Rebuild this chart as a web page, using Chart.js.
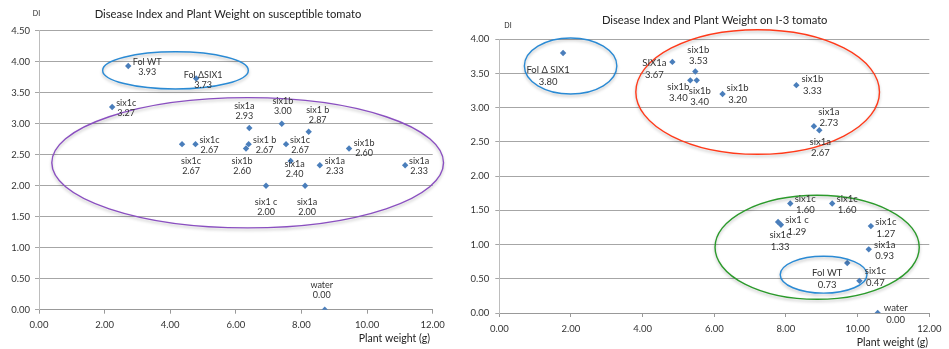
<!DOCTYPE html>
<html>
<head>
<meta charset="utf-8">
<script src="https://cdn.jsdelivr.net/npm/chart.js@4"></script>
<style>
  body { margin: 0; background: #fff; }
  canvas { position: absolute; top: 0; }
  #sus { left: 0; }
  #i3 { left: 470px; }
</style>
</head>
<body>
<canvas id="sus" width="470" height="349"></canvas>
<canvas id="i3" width="479" height="349"></canvas>
<script>
// susceptible tomato: plant weight (g) vs disease index
const susNames = ['Fol WT', 'Fol \u0394SIX1', 'six1c', 'six1a', 'six1b', 'six1 b', 'six1c', 'six1c',
  'six1 b', 'six1b', 'six1c', 'six1a', 'six1a', 'six1b', 'six1a', 'six1 c', 'six1a', 'water'];
const susWeight = [2.72, 4.79, 2.23, 6.41, 7.40, 8.22, 4.36, 4.77, 6.39, 6.31, 7.53, 7.67, 8.56, 9.45, 11.16, 6.92, 8.11, 8.71];
const susDI = [3.93, 3.73, 3.27, 2.93, 3.00, 2.87, 2.67, 2.67, 2.67, 2.60, 2.67, 2.40, 2.33, 2.60, 2.33, 2.00, 2.00, 0.00];

// I-3 tomato
const i3Names = ['Fol \u0394 SIX1', 'SIX1a', 'six1b', 'six1b', 'six1b', 'six1b', 'six1b', 'six1a', 'six1a',
  'six1c', 'six1c', 'six1c', 'six1 c', 'six1c', 'six1a', 'Fol WT', 'six1c', 'water'];
const i3Weight = [1.78, 4.83, 5.47, 5.33, 5.51, 6.23, 8.29, 8.78, 8.93, 8.12, 9.29, 7.78, 7.86, 10.37, 10.31, 9.71, 10.05, 10.56];
const i3DI = [3.80, 3.67, 3.53, 3.40, 3.40, 3.20, 3.33, 2.73, 2.67, 1.60, 1.60, 1.33, 1.29, 1.27, 0.93, 0.73, 0.47, 0.00];

// where each two-line label sits relative to its point (px)
const susLabelShift = [[19, 1], [7, 2], [14, 1], [-5, -17], [1, -18], [9, -17], [9, 22], [14, 1], [16, 1],
  [-4, 18], [14, 1], [4, 8], [15, 1], [15, 0], [14, 1], [0, 21], [2, 21], [-3, -20]];
const i3LabelShift = [[-15, 23], [-18, 7], [3, -16], [-12, 12], [3, 16], [15, 0], [16, 0], [15, -9], [1, 17],
  [15, 1], [15, 1], [2, 19], [16, 1], [15, 2], [16, 1], [-20, 16], [16, -4], [18, 1]];

// hand-drawn groupings, in data units
const susRings = [
  { cx: 4.16, cy: 3.86, rx: 2.22, ry: 0.30, color: '#2a8ad4' },
  { cx: 6.36, cy: 2.37, rx: 5.97, ry: 1.05, color: '#8a4fc0' },
];
const i3Rings = [
  { cx: 1.99, cy: 3.61, rx: 1.29, ry: 0.41, color: '#2a8ad4' },
  { cx: 7.21, cy: 3.23, rx: 3.40, ry: 0.91, color: '#ff3a1a' },
  { cx: 8.87, cy: 0.96, rx: 2.85, ry: 0.76, color: '#2b9a2b' },
  { cx: 9.05, cy: 0.56, rx: 1.21, ry: 0.27, color: '#2a8ad4' },
];

const FONT = 'Lato, "Open Sans", sans-serif';

const overlay = {
  id: 'overlay',
  afterDatasetsDraw(chart, args, opts) {
    const ctx = chart.ctx;
    const xs = chart.scales.x, ys = chart.scales.y;
    // rings
    opts.rings.forEach((r) => {
      const cx = xs.getPixelForValue(r.cx), cy = ys.getPixelForValue(r.cy);
      const rx = Math.abs(xs.getPixelForValue(r.cx + r.rx) - cx);
      const ry = Math.abs(ys.getPixelForValue(r.cy + r.ry) - cy);
      ctx.save();
      ctx.shadowColor = 'rgba(0,0,0,0.25)';
      ctx.shadowBlur = 3;
      ctx.shadowOffsetY = 2;
      ctx.strokeStyle = r.color;
      ctx.lineWidth = 1.4;
      ctx.beginPath();
      ctx.ellipse(cx, cy, rx, ry, 0, 0, Math.PI * 2);
      ctx.stroke();
      ctx.restore();
    });
    // point labels
    const meta = chart.getDatasetMeta(0);
    ctx.save();
    ctx.font = opts.labelSize + 'px ' + FONT;
    ctx.fillStyle = '#333';
    ctx.textAlign = 'center';
    ctx.textBaseline = 'middle';
    meta.data.forEach((pt, i) => {
      const [dx, dy] = opts.shift[i];
      const x = pt.x + dx, y = pt.y + dy;
      const h = opts.lineGap / 2;
      ctx.fillText(opts.names[i], x, y - h);
      ctx.fillText(opts.values[i].toFixed(2), x, y + h);
    });
    ctx.restore();
    // titles
    ctx.save();
    ctx.fillStyle = '#222';
    ctx.textBaseline = 'middle';
    opts.texts.forEach((t) => {
      ctx.font = t.size + 'px ' + FONT;
      ctx.textAlign = t.align || 'center';
      ctx.fillText(t.text, t.x, t.y);
    });
    ctx.restore();
  },
};

function makeChart(id, weights, di, names, shift, rings, yMax, box, texts, labelSize, lineGap) {
  const tickFont = { family: FONT, size: 9.5 };
  return new Chart(document.getElementById(id), {
    type: 'scatter',
    data: {
      datasets: [{
        data: weights.map((w, i) => ({ x: w, y: di[i] })),
        pointStyle: 'rectRot',
        radius: 3.2,
        backgroundColor: '#4a7ebb',
        borderWidth: 0,
      }],
    },
    options: {
      responsive: false,
      animation: false,
      layout: { padding: { top: box.top, right: box.right, left: 0, bottom: 0 } },
      plugins: {
        legend: { display: false },
        tooltip: { enabled: false },
        overlay: { rings, names, values: di, shift, texts, labelSize, lineGap },
      },
      scales: {
        x: {
          type: 'linear', min: 0, max: 12,
          ticks: { stepSize: 2, autoSkip: false, padding: 6, color: '#333', font: tickFont,
            callback: (v) => v.toFixed(2) },
          grid: { drawOnChartArea: false, tickLength: 4, color: '#999' },
          border: { color: '#999' },
          afterFit: (s) => { s.height = box.xh; },
        },
        y: {
          min: 0, max: yMax,
          ticks: { stepSize: 0.5, padding: box.ypad, color: '#333', font: tickFont,
            callback: (v) => v.toFixed(2) },
          grid: { tickLength: 4, color: '#a6a6a6' },
          border: { color: '#bdbdbd' },
          afterFit: (s) => { s.width = box.yw; },
        },
      },
    },
    plugins: [overlay],
  });
}

makeChart('sus', susWeight, susDI, susNames, susLabelShift, susRings, 4.5,
  { top: 30.7, right: 37.3, xh: 39.3, yw: 39, ypad: 5 },
  [
    { text: 'Disease Index and Plant Weight on susceptible tomato', x: 228, y: 14, size: 11.2 },
    { text: 'DI', x: 36.5, y: 14, size: 7 },
    { text: 'Plant weight (g)', x: 430, y: 338.5, size: 10.5, align: 'right' },
  ], 9, 10);

makeChart('i3', i3Weight, i3DI, i3Names, i3LabelShift, i3Rings, 4,
  { top: 39.3, right: 19.7, xh: 36, yw: 29.3, ypad: 6 },
  [
    { text: 'Disease Index and Plant Weight on I-3 tomato', x: 244.7, y: 20.5, size: 11.2 },
    { text: 'DI', x: 38, y: 26, size: 7 },
    { text: 'Plant weight (g)', x: 458, y: 342.5, size: 10.5, align: 'right' },
  ], 9.5, 11.5);
</script>
</body>
</html>
